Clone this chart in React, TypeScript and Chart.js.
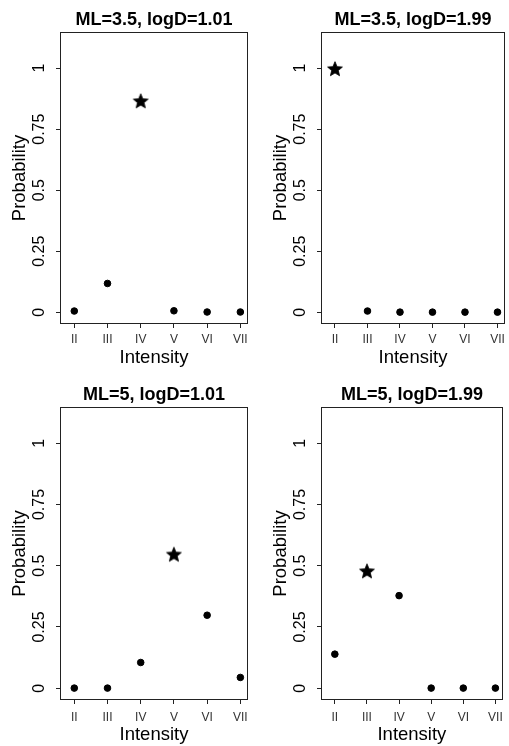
import React, { useEffect, useRef } from "react";
import { Chart, registerables } from "chart.js";

Chart.register(...registerables);

// ---- data ----
const intensityLabels = ["II", "III", "IV", "V", "VI", "VII"];
const yTickValues = [0, 0.25, 0.5, 0.75, 1];
const yTickLabels = ["0", "0.25", "0.5", "0.75", "1"];
const panelTitles = [
  "ML=3.5, logD=1.01",
  "ML=3.5, logD=1.99",
  "ML=5, logD=1.01",
  "ML=5, logD=1.99",
];
const probML35logD101 = [0.005, 0.118, 0.865, 0.006, 0.001, 0.001];
const probML35logD199 = [0.997, 0.005, 0.0005, 0.0005, 0.0005, 0.0005];
const probML5logD101 = [0.0005, 0.0005, 0.105, 0.546, 0.298, 0.044];
const probML5logD199 = [0.139, 0.478, 0.378, 0.0005, 0.0005, 0.0005];
const starIndices = [2, 0, 3, 1];
const xLimits = [0.6, 6.2];
const yLimits = [-0.044, 1.144];
const axisTitleX = "Intensity";
const axisTitleY = "Probability";

const panelValues = [probML35logD101, probML35logD199, probML5logD101, probML5logD199];

// ---- layout (not data) ----
type PanelLayout = {
  left: number; top: number; width: number; height: number;
  yWidth: number; padRight: number; titleTop: number; titleBottom: number;
  xHeight: number; yTitlePad: number; xTitlePad: number; xTickPad: number;
};
const layouts: PanelLayout[] = [
  { left: 0, top: 0, width: 254, height: 373, yWidth: 61, padRight: 7, titleTop: 9.5, titleBottom: 1.9, xHeight: 50, yTitlePad: 9.3, xTitlePad: 4, xTickPad: 4 },
  { left: 254, top: 0, width: 255, height: 373, yWidth: 68, padRight: 3, titleTop: 9.5, titleBottom: 1.9, xHeight: 50, yTitlePad: 16.3, xTitlePad: 4, xTickPad: 4 },
  { left: 0, top: 373, width: 254, height: 373, yWidth: 61, padRight: 7, titleTop: 11.5, titleBottom: 1.9, xHeight: 47, yTitlePad: 9.3, xTitlePad: 0, xTickPad: 6 },
  { left: 254, top: 373, width: 255, height: 373, yWidth: 68, padRight: 3, titleTop: 11.5, titleBottom: 1.9, xHeight: 47, yTitlePad: 16.3, xTitlePad: 0, xTickPad: 6 },
];

const FONT = "'Liberation Sans', Arial, Helvetica, sans-serif";

function makeStar(): HTMLCanvasElement {
  const c = document.createElement("canvas");
  c.width = 18;
  c.height = 18;
  const ctx = c.getContext("2d")!;
  const cx = 9, cy = 9.5, R = 7.8, r = 3.5;
  ctx.beginPath();
  for (let i = 0; i < 10; i++) {
    const ang = -Math.PI / 2 + (i * Math.PI) / 5;
    const rad = i % 2 === 0 ? R : r;
    const px = cx + rad * Math.cos(ang);
    const py = cy + rad * Math.sin(ang);
    if (i === 0) ctx.moveTo(px, py);
    else ctx.lineTo(px, py);
  }
  ctx.closePath();
  ctx.fillStyle = "#000";
  ctx.fill();
  ctx.lineWidth = 0.8;
  ctx.strokeStyle = "#000";
  ctx.stroke();
  return c;
}

const boxPlugin = {
  id: "rbox",
  afterDatasetsDraw(chart: any) {
    const { ctx, chartArea } = chart;
    ctx.save();
    ctx.strokeStyle = "#222";
    ctx.lineWidth = 1;
    const l = Math.round(chartArea.left) - 0.5;
    const t = Math.round(chartArea.top) - 0.5;
    const r = Math.round(chartArea.right) + 0.5;
    const b = Math.round(chartArea.bottom) + 0.5;
    ctx.strokeRect(l, t, r - l, b - t);
    ctx.restore();
  },
};

function Panel({ idx }: { idx: number }) {
  const ref = useRef<HTMLCanvasElement | null>(null);
  const lay = layouts[idx];
  useEffect(() => {
    if (!ref.current) return;
    const star = makeStar();
    const values = panelValues[idx];
    const starIdx = starIndices[idx];
    const chart = new Chart(ref.current, {
      type: "scatter",
      data: {
        datasets: [
          {
            data: values.map((v, i) => ({ x: i + 1, y: v })),
            backgroundColor: "#000",
            borderColor: "#000",
            pointRadius: 3.3,
            pointBorderWidth: 1,
            pointStyle: (c: any) => (c.dataIndex === starIdx ? star : "circle"),
            showLine: false,
          } as any,
        ],
      },
      options: {
        responsive: false,
        animation: false,
        layout: { padding: { left: 0, right: lay.padRight, top: 0, bottom: 0 } },
        plugins: {
          legend: { display: false },
          tooltip: { enabled: false },
          title: {
            display: true,
            text: panelTitles[idx],
            fullSize: false,
            color: "#000",
            font: { family: FONT, size: 18, weight: "bold", lineHeight: 1.2 },
            padding: { top: lay.titleTop, bottom: lay.titleBottom },
          },
        },
        scales: {
          x: {
            type: "linear",
            position: "bottom",
            min: xLimits[0],
            max: xLimits[1],
            afterBuildTicks: (s: any) => {
              s.ticks = intensityLabels.map((_, i) => ({ value: i + 1 }));
            },
            afterFit: (s: any) => {
              s.height = lay.xHeight;
            },
            ticks: {
              autoSkip: false,
              minRotation: 0,
              maxRotation: 0,
              padding: lay.xTickPad,
              color: "#333",
              font: { family: FONT, size: 12 },
              callback: (_v: any, i: number) => intensityLabels[i],
            },
            grid: { drawOnChartArea: false, drawTicks: true, tickLength: 5, color: "#222" },
            border: { display: false },
            title: {
              display: true,
              text: axisTitleX,
              color: "#000",
              font: { family: FONT, size: 18.5, lineHeight: 1.2 },
              padding: { top: 0, bottom: lay.xTitlePad },
            },
          },
          y: {
            type: "linear",
            position: "left",
            min: yLimits[0],
            max: yLimits[1],
            afterBuildTicks: (s: any) => {
              s.ticks = yTickValues.map((v) => ({ value: v }));
            },
            afterFit: (s: any) => {
              s.width = lay.yWidth;
            },
            ticks: {
              autoSkip: false,
              minRotation: 90,
              maxRotation: 90,
              crossAlign: "center",
              padding: 1,
              color: "#000",
              font: { family: FONT, size: 16 },
              callback: (_v: any, i: number) => yTickLabels[i],
            },
            grid: { drawOnChartArea: false, drawTicks: true, tickLength: 5, color: "#222" },
            border: { display: false },
            title: {
              display: true,
              text: axisTitleY,
              color: "#000",
              font: { family: FONT, size: 18.5, lineHeight: 1.2 },
              padding: { top: lay.yTitlePad, bottom: 0 },
            },
          },
        },
      } as any,
      plugins: [boxPlugin],
    });
    return () => chart.destroy();
  }, [idx]);
  return (
    <div style={{ position: "absolute", left: lay.left, top: lay.top, width: lay.width, height: lay.height }}>
      <canvas ref={ref} width={lay.width} height={lay.height} style={{ display: "block" }} />
    </div>
  );
}

export default function App() {
  return (
    <div style={{ position: "absolute", left: 0, top: 0, width: 509, height: 746, background: "#fff" }}>
      {[0, 1, 2, 3].map((i) => (
        <Panel key={i} idx={i} />
      ))}
    </div>
  );
}
